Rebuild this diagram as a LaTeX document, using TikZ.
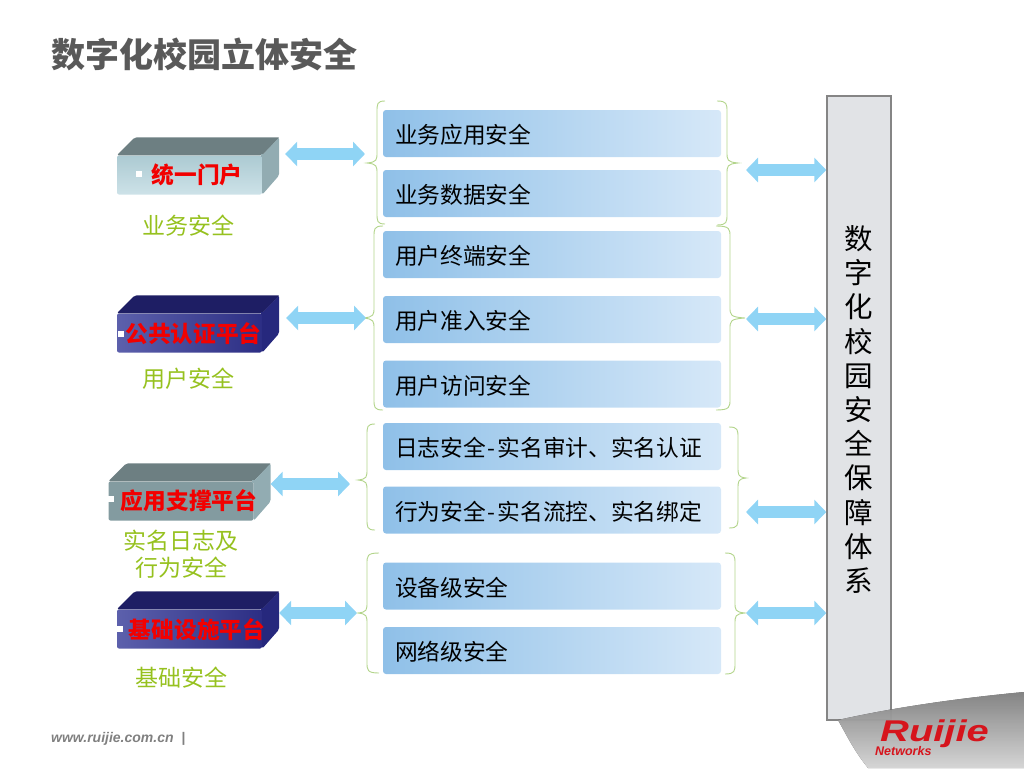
\documentclass[tikz,border=0pt]{standalone}
\usepackage{xcolor}
\usepackage{fontspec}
\setmainfont{Noto Sans CJK SC}
\newfontfamily\latinfont{Liberation Sans}
\usetikzlibrary{arrows.meta, positioning, calc}
\definecolor{linkblue}{RGB}{143,212,245}
\definecolor{leafgreen}{RGB}{150,193,31}
\definecolor{bracegreen}{RGB}{178,212,138}
\definecolor{slatetop}{RGB}{109,127,130}
\definecolor{slateside}{RGB}{146,172,178}
\definecolor{slatehigh}{RGB}{172,202,210}
\definecolor{slatelow}{RGB}{205,226,232}
\definecolor{navytop}{RGB}{30,30,100}
\definecolor{navyside}{RGB}{38,40,125}
\definecolor{navylight}{RGB}{92,96,172}
\definecolor{navydark}{RGB}{44,46,132}
\definecolor{leafleft}{RGB}{143,192,232}
\definecolor{leafright}{RGB}{214,232,248}
\definecolor{panelgray}{RGB}{225,227,230}
\definecolor{logored}{RGB}{214,20,28}
% top and side faces of a platform block
\newcommand{\blockfaces}[3]{
  \fill[#2, rounded corners=2pt] (#1.north west) -- ++(18,-18) -- ++(145,0) -- ($(#1.north east)$) -- cycle;
  \fill[#3, rounded corners=2pt] (#1.north east) -- ++(17,-18) -- ++(0,38) -- ($(#1.south east)$) -- cycle;
  \fill[#3] ($(#1.north east)+(-1.5,-1.5)$) rectangle ($(#1.north east)+(1.5,2)$);
}
% xend, xspine, xtip, ytop, ytip, ybottom
\newcommand{\bracepath}[6]{
  \draw[bracket] (#1,#4) .. controls (#2,#4) and (#2,#4+3) .. (#2,#4+11) -- (#2,#5-11)
    .. controls (#2,#5-3) and (#2,#5-1) .. (#3,#5) .. controls (#2,#5+1) and (#2,#5+3) .. (#2,#5+11)
    -- (#2,#6-11) .. controls (#2,#6-3) and (#2,#6) .. (#1,#6);
}
\begin{document}
\begin{tikzpicture}[x=1pt, y=-1pt,
    slab/.style={rectangle, rounded corners=2pt, minimum width=145pt, minimum height=39pt, inner sep=0pt},
    slabtext/.style={font=\fontsize{22.7}{24}\selectfont\bfseries, text=red!95!black, inner sep=0pt},
    leaf/.style={rectangle, rounded corners=3pt, minimum width=338pt, minimum height=47pt, inner xsep=12pt, inner ysep=0pt, outer sep=0pt,
                 text width=314pt, text height=22pt, text depth=2pt, align=left, left color=leafleft, right color=leafright, font=\fontsize{22.7}{24}\selectfont},
    caption/.style={text=leafgreen, font=\fontsize{23}{27}\selectfont, align=center, inner sep=0pt},
    bracket/.style={draw=bracegreen, line width=0.9pt},
    link/.style={{Triangle[length=12pt,width=24pt]}-{Triangle[length=12pt,width=24pt]}, draw=linkblue, line width=12pt},
    notch/.style={fill=white, minimum size=6pt, inner sep=0pt}
]
\useasboundingbox (0,0) rectangle (1024,768);

\node[anchor=west, text=black!65, font=\fontsize{34}{36}\selectfont\bfseries, inner sep=0pt] (title) at (51,54) {数字化校园立体安全};

% right hand panel
\node[rectangle, draw=black!48, line width=1.5pt, fill=panelgray, minimum width=64pt, minimum height=624pt, inner sep=0pt] (panel) at (859,408) {};
\node[align=center, inner sep=0pt, font=\fontsize{28.5}{34.2}\selectfont] (paneltext) at (859,409.5)
  {数\\字\\化\\校\\园\\安\\全\\保\\障\\体\\系};

% footer
\fill[top color=black!40, middle color=black!14, bottom color=white, fill opacity=0.8] (838,720) .. controls (900,706) and (970,697) .. (1024,692) -- (1024,768) -- (868,768) .. controls (855,752) and (848,738) .. cycle;
\node[anchor=west, text=black!50, font=\latinfont\fontsize{14}{15}\selectfont\bfseries\itshape, inner sep=0pt] (website) at (51,739) {www.ruijie.com.cn ~|};
\node[anchor=base west, text=logored, font=\latinfont\fontsize{30}{30}\selectfont\bfseries\itshape, inner sep=0pt] (logo) at (880,741) {\scalebox{1.33}[1]{Ruijie}};
\node[anchor=base west, text=logored, font=\latinfont\fontsize{12.5}{13}\selectfont\bfseries\itshape, inner sep=0pt] (networks) at (875,755) {Networks};

% platform blocks
\node[slab, top color=slatehigh, bottom color=slatelow] (portal) at (189.5,175) {};
\blockfaces{portal}{slatetop}{slateside}
\node[slab, left color=navylight, right color=navydark] (auth) at (189.5,333) {};
\blockfaces{auth}{navytop}{navyside}
\node[slab, fill=slateside!90!black] (support) at (181,501) {};
\blockfaces{support}{slatetop}{slateside}
\node[slab, left color=navylight, right color=navydark] (infra) at (189.5,629) {};
\blockfaces{infra}{navytop}{navyside}

\node[notch] (portalmark) at (139,174) {};
\node[notch] (authmark) at (121,334) {};
\node[notch, anchor=west] (supportmark) at (108,499) {};
\node[notch, anchor=west] (inframark) at (117,629) {};

\node[slabtext] (portaltext) at (197,175) {统一门户};
\node[slabtext] (authtext) at (193.5,334) {公共认证平台};
\node[slabtext] (supporttext) at (189,501) {应用支撑平台};
\node[slabtext] (infratext) at (197,630) {基础设施平台};

\node[caption] (portalcap) at (188.5,226) {业务安全};
\node[caption] (authcap) at (188.5,379) {用户安全};
\node[caption] (supportcap) at (181,554.5) {实名日志及\\行为安全};
\node[caption] (infracap) at (181,678) {基础安全};

% security items
\node[leaf] (bizapp) at (552,133.5) {业务应用安全};
\node[leaf, below=13pt of bizapp] (bizdata) {业务数据安全};
\node[leaf, below=14pt of bizdata] (terminal) {用户终端安全};
\node[leaf, below=18pt of terminal] (admit) {用户准入安全};
\node[leaf, below=17.5pt of admit] (visit) {用户访问安全};
\node[leaf, below=15.5pt of visit] (logsafe) {日志安全\kern2pt-\kern2pt 实名审计、实名认证};
\node[leaf, below=16.5pt of logsafe] (behave) {行为安全\kern2pt-\kern2pt 实名流控、实名绑定};
\node[leaf, below=29pt of behave] (device) {设备级安全};
\node[leaf, below=17.5pt of device] (network) {网络级安全};

% braces
\bracepath{385}{377}{367}{101}{163}{224}
\bracepath{383}{374}{363}{226}{318}{410}
\bracepath{375}{367}{358}{424}{480}{530}
\bracepath{379}{367}{358}{553}{613}{673}
\bracepath{717}{727}{738}{101}{163}{225}
\bracepath{716}{730}{745}{226}{318}{410}
\bracepath{729}{738}{746}{427}{478}{528}
\bracepath{725}{735}{745}{553}{613}{674}

% links
\coordinate (portalend) at (365,154);
\coordinate (authend) at (366,318);
\coordinate (supportend) at (350,484);
\coordinate (infraend) at (357,613);
\draw[link] (portal.east |- portalend) ++(23,0) -- (portalend);
\draw[link] (auth.east |- authend) ++(24,0) -- (authend);
\draw[link] (support.east |- supportend) ++(17,0) -- (supportend);
\draw[link] (infra.east |- infraend) ++(17,0) -- (infraend);
\foreach \ypos/\lname in {170/a, 319/b, 512/c, 613/d}{
  \coordinate (rightend\lname) at (746,\ypos);
  \draw[link] (rightend\lname) -- (panel.west |- rightend\lname);
}
\end{tikzpicture}
\end{document}
